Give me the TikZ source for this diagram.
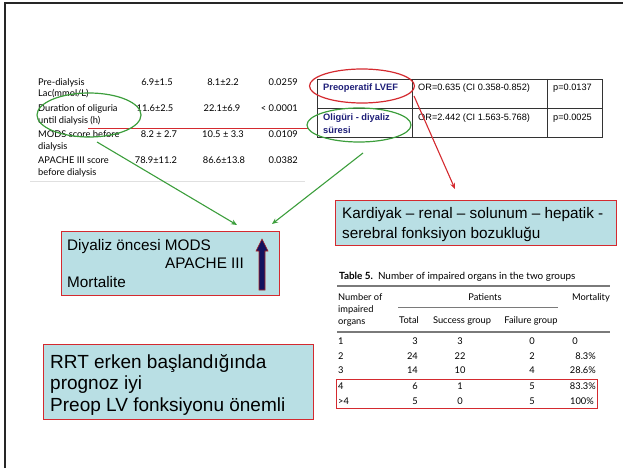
\documentclass[tikz,border=0pt]{standalone}
\usepackage{fontspec}
\setmainfont{Liberation Sans}
\newfontfamily\gill{Lato}
\usetikzlibrary{shapes.geometric,arrows.meta,calc}
\definecolor{boxfill}{HTML}{B9DFE4}
\definecolor{boxred}{HTML}{D42A2F}
\definecolor{grn}{HTML}{3C9E3C}
\definecolor{navytext}{HTML}{1E1E78}
\definecolor{navy}{HTML}{12125E}
\definecolor{rulegray}{HTML}{7A7A7A}
\begin{document}
\begin{tikzpicture}[x=1pt,y=-1pt,
  gl/.style={anchor=base west,inner sep=0,font=\gill\fontsize{9.3}{10}\selectfont},
  gc/.style={anchor=base,inner sep=0,font=\gill\fontsize{9.3}{10}\selectfont},
  gr/.style={anchor=base east,inner sep=0,font=\gill\fontsize{9.3}{10}\selectfont},
  rtl/.style={anchor=base west,inner sep=0,font=\fontsize{9.2}{10}\selectfont},
  rtb/.style={anchor=base west,inner sep=0,font=\bfseries\fontsize{9.3}{10}\selectfont,text=navytext},
  bluebox/.style={draw=boxred,fill=boxfill,line width=1pt,anchor=north west,inner sep=0},
  midtxt/.style={anchor=base west,inner sep=0,font=\fontsize{15.3}{17}\selectfont},
  bigtxt/.style={anchor=base west,inner sep=0,font=\fontsize{19}{22}\selectfont},
  ell/.style={ellipse,draw,line width=1.2pt,inner sep=0},
  garrow/.style={draw=grn,line width=1.1pt,-{Stealth[length=6pt,width=5pt]}},
  rarrow/.style={draw=boxred,line width=1.1pt,-{Stealth[length=6pt,width=5pt]}}]
\useasboundingbox (0,0) rectangle (623,468);
% slide frame
\draw[line width=2.5pt,black!85] (5,468) -- (5,3) -- (623,3);

% top-left table
\node[gl] (a1) at (38,86) {Pre-dialysis};
\node[gl] (a2) at (38,97) {Lac(mmol/L)};
\node[gc] (a3) at (157,86) {6.9±1.5};
\node[gc] (a4) at (223,86) {8.1±2.2};
\node[gr] (a5) at (298,86) {0.0259};
\node[gl] (b1) at (38,111) {Duration of oliguria};
\node[gl] (b2) at (38,123) {until dialysis (h)};
\node[gc] (b3) at (155,111) {11.6±2.5};
\node[gc] (b4) at (222,111) {22.1±6.9};
\node[gr] (b5) at (298,111) {< 0.0001};
\node[gl] (c1) at (38,137) {MODS score before};
\node[gl] (c2) at (38,149) {dialysis};
\node[gc] (c3) at (159,137) {8.2 ± 2.7};
\node[gc] (c4) at (223,137) {10.5 ± 3.3};
\node[gr] (c5) at (298,137) {0.0109};
\node[gl] (d1) at (38,163) {APACHE III score};
\node[gl] (d2) at (38,175) {before dialysis};
\node[gc] (d3) at (156,163) {78.9±11.2};
\node[gc] (d4) at (224,163) {86.6±13.8};
\node[gr] (d5) at (298,163) {0.0382};
\draw[black!12,line width=0.8pt] (30,181) -- (305,181);
\draw[boxred,line width=1pt] (88,128) -- (309,128);

% right small table
\draw[line width=0.9pt,black!80] (317,79) rectangle (602,137);
\draw[line width=0.9pt,black!80] (317,108) -- (602,108);
\draw[line width=0.9pt,black!80] (412,79) -- (412,137);
\draw[line width=0.9pt,black!80] (547,79) -- (547,137);
\node[rtb] (p1) at (323,91) {Preoperatif LVEF};
\node[rtl] (p2) at (418,91) {OR=0.635 (CI 0.358-0.852)};
\node[rtl] (p3) at (553,91) {p=0.0137};
\node[rtb] (q1) at (323,121) {Oligüri - diyaliz};
\node[rtb] (q1b) at (323,133) {süresi};
\node[rtl] (q2) at (418,121) {OR=2.442 (CI 1.563-5.768)};
\node[rtl] (q3) at (553,121) {p=0.0025};

% ellipses
\node[ell,draw=grn,minimum width=104pt,minimum height=44pt] (e1) at (89,115) {};
\node[ell,draw=boxred,minimum width=105pt,minimum height=34pt] (e2) at (362,86) {};
\node[ell,draw=grn,minimum width=104pt,minimum height=34pt] (e3) at (359,125) {};

% boxes
\node[bluebox,minimum width=281pt,minimum height=45pt] (kard) at (335,200) {};
\node[midtxt] (k1) at (342,218) {Kardiyak – renal – solunum – hepatik -};
\node[midtxt] (k2) at (342,238) {serebral fonksiyon bozukluğu};

\node[bluebox,minimum width=218pt,minimum height=64pt] (diy) at (61,231) {};
\node[midtxt] (m1) at (67,250) {Diyaliz öncesi MODS};
\node[midtxt] (m2) at (165,268) {APACHE III};
\node[midtxt] (m3) at (67,287) {Mortalite};
\coordinate (upb) at (262,290);
\draw[fill=navy,draw=boxred!80!black,line width=0.6pt]
  ($(upb)+(-3,0)$) -- ++(0,-39) -- ++(-3,0) -- (262,239) -- (268,251) -- ++(-3,0) -- (265,290) -- cycle;

\node[bluebox,minimum width=270pt,minimum height=75pt] (rrt) at (43,344) {};
\node[bigtxt] (r1) at (50,368) {RRT erken başlandığında};
\node[bigtxt] (r2) at (50,389) {prognoz iyi};
\node[bigtxt] (r3) at (50,411) {Preop LV fonksiyonu önemli};

% arrows
\coordinate (g1s) at (97,142);
\coordinate (g1e) at (237,225);
\coordinate (g2s) at (363,153);
\coordinate (g2e) at (272,224);
\coordinate (r1s) at (414,96);
\coordinate (r1e) at (455,189);
\draw[garrow] (g1s) -- (g1e);
\draw[garrow] (g2s) -- (g2e);
\draw[rarrow] (r1s) -- (r1e);

% Table 5
\node[anchor=base west,inner sep=0,font=\gill\fontsize{9.9}{11}\selectfont] (t5) at (339,279) {\textbf{Table 5.}\ \ Number of impaired organs in the two groups};
\draw[rulegray,line width=1.3pt] (337,286) -- (610,286);
\node[gl] (h1) at (338,300) {Number of};
\node[gl] (h2) at (338,312) {impaired};
\node[gl] (h3) at (338,324) {organs};
\node[gc] (h4) at (485,300) {Patients};
\node[gr] (h5) at (610,300) {Mortality};
\draw[rulegray,line width=0.8pt] (398,307) -- (558,307);
\node[gc] (h6) at (409,323) {Total};
\node[gc] (h7) at (462,323) {Success group};
\node[gc] (h8) at (531,323) {Failure group};
\draw[rulegray,line width=1.3pt] (337,332) -- (610,332);
% rows
\node[gl] (r1a) at (338,344) {1};
\node[gr] (r1b) at (418,344) {3};
\node[gc] (r1c) at (460,344) {3};
\node[gc] (r1d) at (532,344) {0};
\node[gc] (r1f) at (575,344) {0};
\node[gl] (r2a) at (338,359) {2};
\node[gr] (r2b) at (418,359) {24};
\node[gc] (r2c) at (460,359) {22};
\node[gc] (r2d) at (532,359) {2};
\node[gr] (r2f) at (596,359) {8.3\%};
\node[gl] (r3a) at (338,373) {3};
\node[gr] (r3b) at (418,373) {14};
\node[gc] (r3c) at (460,373) {10};
\node[gc] (r3d) at (532,373) {4};
\node[gr] (r3f) at (596,373) {28.6\%};
\node[gl] (r4a) at (338,389) {4};
\node[gr] (r4b) at (418,389) {6};
\node[gc] (r4c) at (460,389) {1};
\node[gc] (r4d) at (532,389) {5};
\node[gr] (r4f) at (596,389) {83.3\%};
\node[gl] (r5a) at (338,404) {>4};
\node[gr] (r5b) at (418,404) {5};
\node[gc] (r5c) at (460,404) {0};
\node[gc] (r5d) at (532,404) {5};
\node[gr] (r5f) at (594,404) {100\%};
\draw[boxred,line width=1pt] (336,379) rectangle (597,408);
\end{tikzpicture}
\end{document}
